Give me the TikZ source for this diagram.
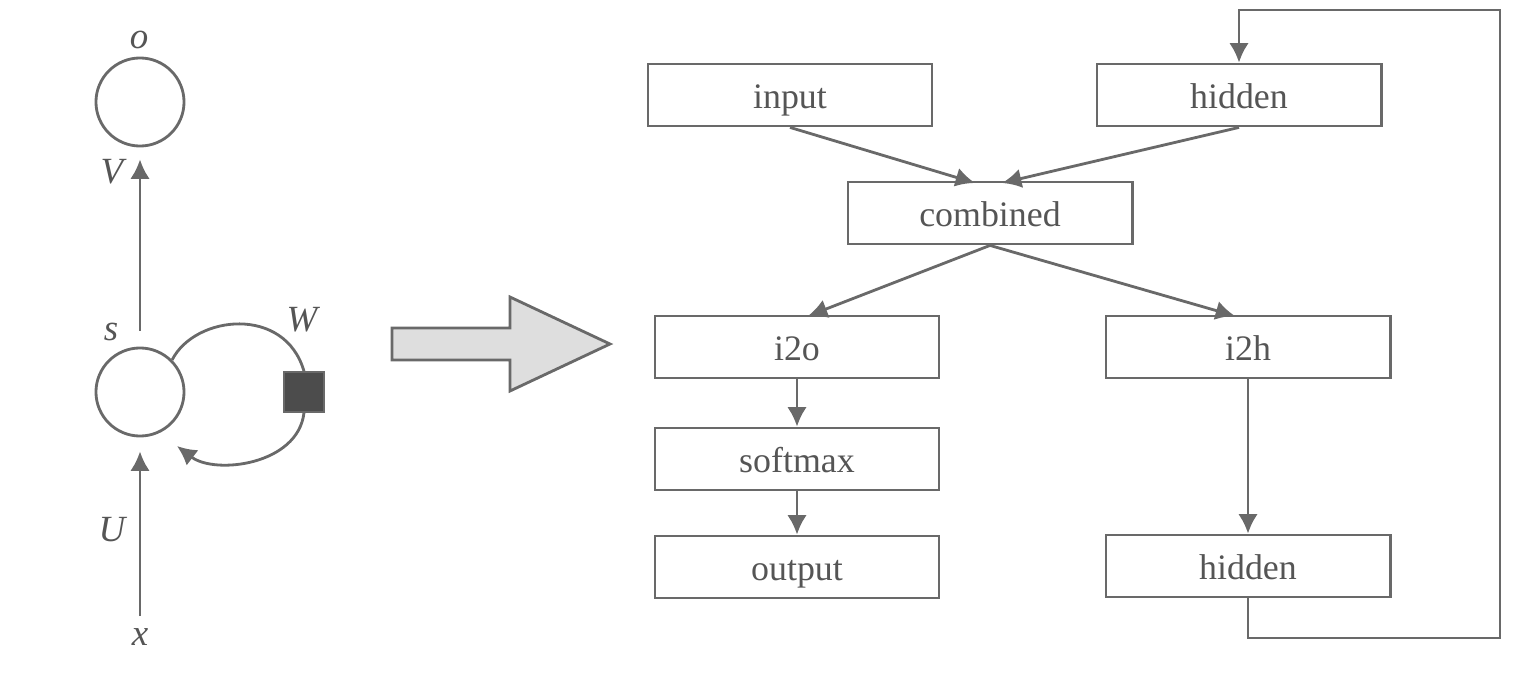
\documentclass[tikz,border=0pt]{standalone}
\usepackage{fontspec}
\setmainfont{Liberation Serif}
\usepackage{amsmath}
\usepackage{tikz}
\usetikzlibrary{arrows.meta}

\definecolor{linegray}{RGB}{105,105,105}
\definecolor{textgray}{RGB}{85,85,85}

\begin{document}
\begin{tikzpicture}[x=0.01cm, y=-0.01cm, >={Latex[length=5.5pt,width=5.5pt]},
	every node/.style={text=textgray},
	box/.style={rectangle, draw=linegray, thick, minimum width=2.84cm, minimum height=0.62cm, inner ysep=0pt, text height=2.0ex, text depth=0.35ex, font=\fontsize{10.2}{12}\selectfont},
	unit/.style={circle, draw=linegray, thick, minimum size=0.88cm, inner sep=0pt},
	lab/.style={font=\fontsize{10.5}{12}\selectfont\itshape},
	every edge/.style={draw=linegray, thick}]
	\useasboundingbox (0,0) rectangle (1533,691);

	% left: folded recurrent unit
	\node[unit] (o) at (140,102){};
	\node[unit] (s) at (140,392){};
	\node[rectangle, draw=linegray, fill=black!70, minimum size=0.4cm, inner sep=0pt] (w) at (304,392){};

	\node[lab] (olab) at (139,40){o};
	\node[lab] (vlab) at (112,172){V};
	\node[lab] (slab) at (111,332){s};
	\node[lab] (wlab) at (302,320){W};
	\node[lab] (ulab) at (112,530){U};
	\node[lab] (xlab) at (140,637){x};
	\coordinate (wend) at (177,446);

	\path (s) edge[->, shorten <=0.16cm, shorten >=0.12cm] (o);
	\path (xlab) edge[->, shorten >=0.14cm] (s);
	\draw[linegray, thick] (s.45) .. controls (195,315) and (285,305) .. (w.north);
	\draw[linegray, thick, ->] (w.south) .. controls (298,465) and (215,475) .. (wend);

	% big arrow
	\draw[linegray, thick, fill=black!13] (392,328) -- (510,328) -- (510,297) -- (610,344)
		-- (510,391) -- (510,360) -- (392,360) -- cycle;

	% right: unrolled network
	\node[box] (input) at (790,95){input};
	\node[box] (hid1) at (1239,95){hidden};
	\node[box] (comb) at (990,213){combined};
	\node[box] (i2o) at (797,347){i2o};
	\node[box] (i2h) at (1248,347){i2h};
	\node[box] (soft) at (797,459){softmax};
	\node[box] (out) at (797,567){output};
	\node[box] (hid2) at (1248,566){hidden};

	\path (input.south) edge[->] (975,183);
	\path (hid1.south) edge[->] (1002,183);
	\path (comb.south) edge[->] (808,316);
	\path (comb.south) edge[->] (1235,316);
	\path (i2o) edge[->] (soft);
	\path (soft) edge[->] (out);
	\path (i2h) edge[->] (hid2);

	\coordinate (c1) at (1248,638);
	\coordinate (c2) at (1500,638);
	\coordinate (c3) at (1500,10);
	\coordinate (c4) at (1239,10);
	\draw[linegray, thick, ->] (hid2.south) -- (c1) -- (c2) -- (c3) -- (c4) -- (hid1.north);
\end{tikzpicture}
\end{document}
